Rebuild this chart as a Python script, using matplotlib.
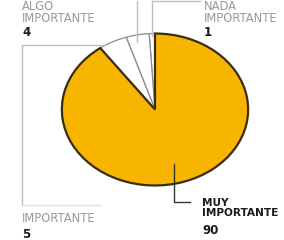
import matplotlib
matplotlib.use("Agg")
import matplotlib.pyplot as plt

# respuestas (porcentaje)
labels = ["NADA\nIMPORTANTE", "ALGO\nIMPORTANTE", "IMPORTANTE", "MUY\nIMPORTANTE"]
values = [1, 4, 5, 90]
colors = ["white", "white", "white", "#F7B500"]

W, H = 284, 240
fig = plt.figure(figsize=(W / 100, H / 100), dpi=100)
fig.patch.set_facecolor("white")

# pie axes: ellipse spans x 60..250, y 32..186 (pixels)
pax = fig.add_axes([60 / W, (H - 187) / H, 190 / W, 155 / H])
wedges, _ = pax.pie(values, colors=colors, startangle=90, counterclock=True,
                    wedgeprops=dict(edgecolor="#3a2d15", linewidth=1.6))
for w, v in zip(wedges, values):
    if v < 10:
        w.set_edgecolor("#8a8a8a")
        w.set_linewidth(0.9)
pax.set_aspect("auto")
pax.set_xlim(-1.02, 1.02)
pax.set_ylim(-1.02, 1.02)
pax.axis("off")

# overlay in pixel coordinates for labels and leader lines
ax = fig.add_axes([0, 0, 1, 1], facecolor="none")
ax.set_xlim(0, W)
ax.set_ylim(H, 0)
ax.axis("off")

gray = "#bdbdbd"
# leader lines
ax.plot([137, 137], [1, 42], color=gray, lw=1)
ax.plot([152, 152], [1, 36], color=gray, lw=1)
ax.plot([152, 200], [1, 1], color=gray, lw=1)
ax.plot([22, 22, 105], [205, 45, 45], color=gray, lw=1)
ax.plot([22, 100], [205, 205], color="#e0e0e0", lw=1)
ax.plot([174, 174, 190], [164, 202, 202], color="#333333", lw=1)

txt = "#999999"
positions = [(204, 12), (22, 12), (22, 218), (202, 208)]
num_pos = [(204, 32), (22, 32), (22, 234), (202, 231)]
for i, (lab, v) in enumerate(zip(labels, values)):
    x, y = positions[i]
    if i == 3:
        ax.text(x, y, lab, color="#1a1a1a", fontsize=7.6, fontweight="bold",
                ha="left", va="center", linespacing=0.9)
    else:
        ax.text(x, y, lab, color=txt, fontsize=8.3, ha="left", va="center",
                linespacing=0.9)
    nx, ny = num_pos[i]
    ax.text(nx, ny, str(v), color="#1a1a1a", fontsize=8.5,
            fontweight="bold", ha="left", va="center")

fig.savefig("out.png", dpi=100)
